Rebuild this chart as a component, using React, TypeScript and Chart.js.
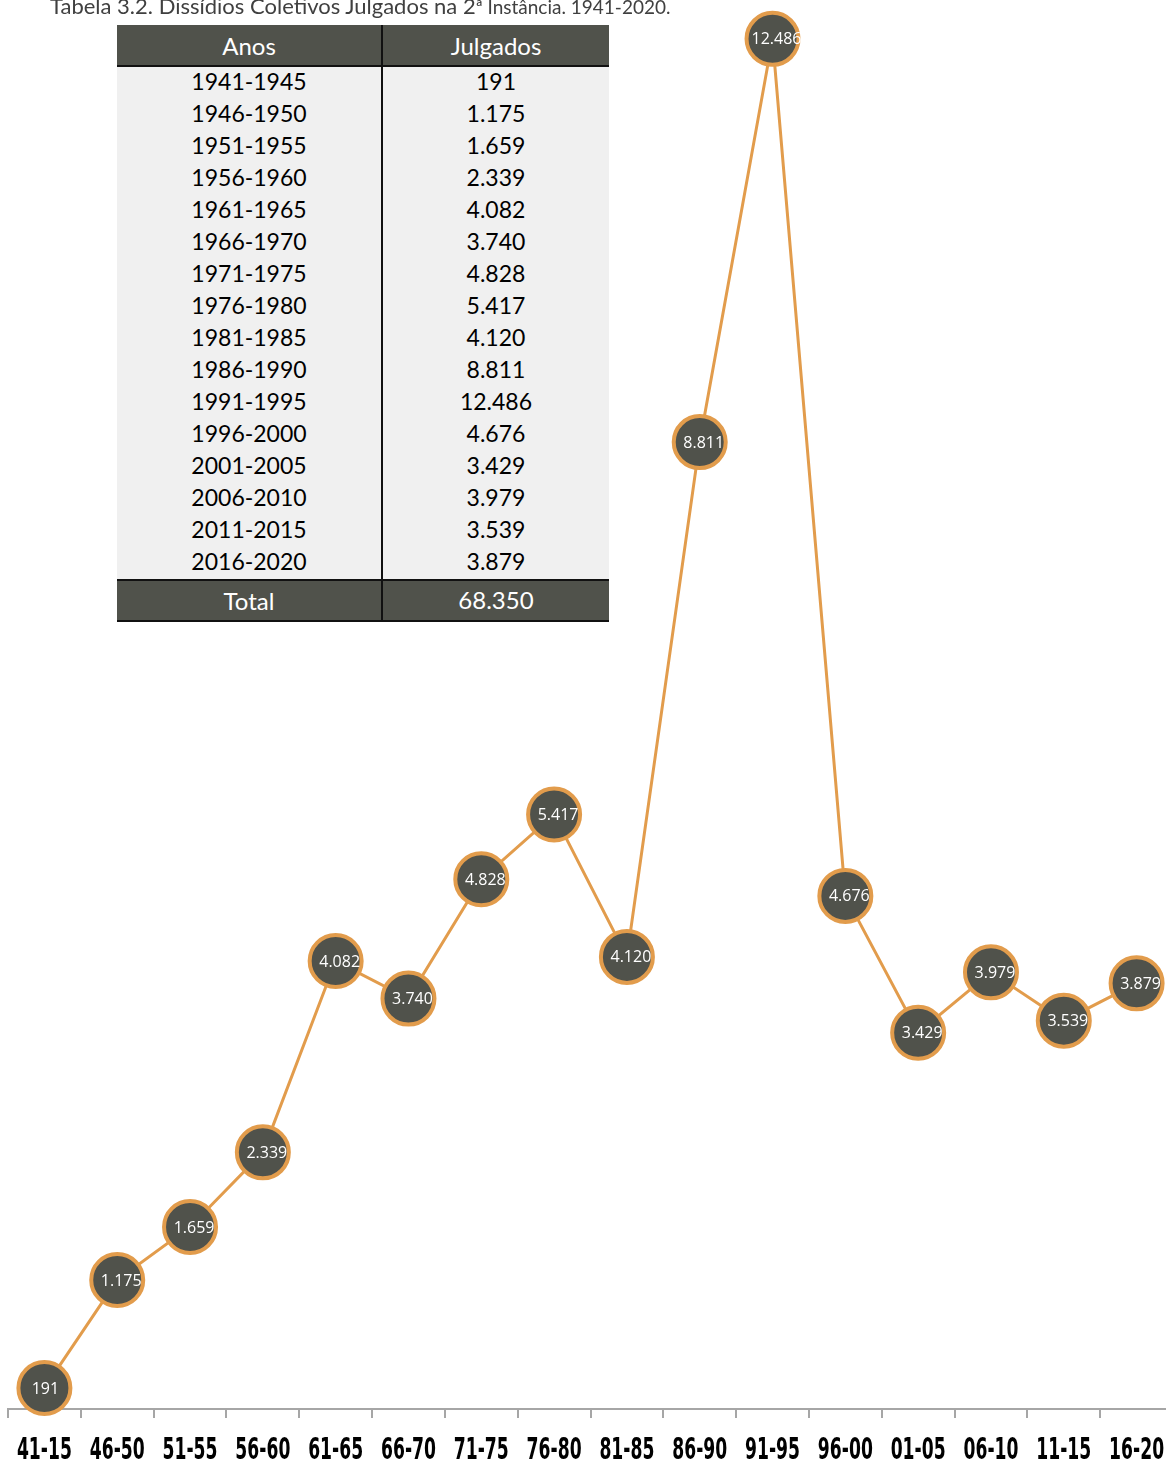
import React, { useEffect, useRef } from "react";
import { Chart, registerables } from "chart.js";

Chart.register(...registerables);

const periods = [
  "1941-1945", "1946-1950", "1951-1955", "1956-1960", "1961-1965", "1966-1970",
  "1971-1975", "1976-1980", "1981-1985", "1986-1990", "1991-1995", "1996-2000",
  "2001-2005", "2006-2010", "2011-2015", "2016-2020",
];
const axisLabels = [
  "41-15", "46-50", "51-55", "56-60", "61-65", "66-70", "71-75", "76-80",
  "81-85", "86-90", "91-95", "96-00", "01-05", "06-10", "11-15", "16-20",
];
const julgados = [191, 1175, 1659, 2339, 4082, 3740, 4828, 5417, 4120, 8811, 12486, 4676, 3429, 3979, 3539, 3879];

const fmt = (v: number) => String(v).replace(/\B(?=(\d{3})+(?!\d))/g, ".");

const DARK = "#50524B";
const ORANGE = "#E29C4C";

const labelPlugin = {
  id: "pointLabels",
  afterDatasetsDraw(chart: any) {
    const ctx = chart.ctx;
    const meta = chart.getDatasetMeta(0);
    ctx.save();
    ctx.fillStyle = "#FFFFFF";
    ctx.font = "16px 'Open Sans', sans-serif";
    ctx.textAlign = "center";
    ctx.textBaseline = "middle";
    meta.data.forEach((pt: any, i: number) => {
      const dx = julgados[i] >= 1000 ? 4 : 1;
      ctx.fillText(fmt(julgados[i]), pt.x + dx, pt.y + 1);
    });
    ctx.restore();
  },
};

// condensed category labels drawn at the x scale's own tick positions
const xLabelPlugin = {
  id: "xCondensedLabels",
  afterDraw(chart: any) {
    const ctx = chart.ctx;
    const xs = chart.scales.x;
    ctx.save();
    ctx.fillStyle = "#000";
    ctx.font = "bold 31px 'DejaVu Sans Condensed', 'DejaVu Sans', sans-serif";
    ctx.textAlign = "center";
    ctx.textBaseline = "alphabetic";
    const sx = 55 / ctx.measureText("46-50").width;
    const baseY = chart.chartArea.bottom + 50;
    axisLabels.forEach((lab, i) => {
      const x = xs.getPixelForValue(i);
      ctx.save();
      ctx.translate(x, baseY);
      ctx.scale(sx, 1);
      ctx.fillText(lab, 0, 0);
      ctx.restore();
    });
    ctx.restore();
  },
};

function TableBlock() {
  const cell: React.CSSProperties = {
    display: "flex",
    alignItems: "center",
    justifyContent: "center",
  };
  const total = julgados.reduce((a, b) => a + b, 0);
  return (
    <div
      style={{
        position: "absolute",
        left: 117,
        top: 25,
        width: 492,
        fontFamily: "Lato, sans-serif",
        fontSize: 23,
      }}
    >
      <div style={{ display: "flex", height: 40, background: DARK, color: "#fff", borderBottom: "2px solid #111" }}>
        <div style={{ ...cell, width: 264, borderRight: "2px solid #111", fontSize: 24 }}>Anos</div>
        <div style={{ ...cell, flex: 1, fontSize: 24 }}>Julgados</div>
      </div>
      {periods.map((p, i) => (
        <div key={p} style={{ display: "flex", height: 32, background: "#F0F0F0", color: "#000" }}>
          <div style={{ ...cell, width: 264, borderRight: "2px solid #111", paddingBottom: 4 }}>{p}</div>
          <div style={{ ...cell, flex: 1, paddingBottom: 4 }}>{fmt(julgados[i])}</div>
        </div>
      ))}
      <div
        style={{
          display: "flex",
          height: 39,
          background: DARK,
          color: "#fff",
          borderTop: "2px solid #111",
          borderBottom: "2px solid #111",
        }}
      >
        <div style={{ ...cell, width: 264, borderRight: "2px solid #111", fontSize: 24 }}>Total</div>
        <div style={{ ...cell, flex: 1, fontSize: 24, paddingBottom: 3 }}>{fmt(total)}</div>
      </div>
    </div>
  );
}

export default function App() {
  const ref = useRef<HTMLCanvasElement | null>(null);
  useEffect(() => {
    if (!ref.current) return;
    const chart = new Chart(ref.current, {
      type: "line",
      data: {
        labels: axisLabels,
        datasets: [
          {
            data: julgados,
            borderColor: ORANGE,
            borderWidth: 3,
            backgroundColor: DARK,
            pointBackgroundColor: DARK,
            pointBorderColor: ORANGE,
            pointBorderWidth: 4,
            pointRadius: 26,
            pointHoverRadius: 26,
            tension: 0,
            clip: false as any,
          },
        ],
      },
      options: {
        animation: false,
        responsive: false,
        maintainAspectRatio: false,
        layout: { autoPadding: false, padding: { left: 8, right: 7, top: 0, bottom: 45 } },
        plugins: { legend: { display: false }, tooltip: { enabled: false } },
        scales: {
          y: { display: false, min: 0, max: 12840 },
          x: {
            offset: true,
            grid: {
              offset: true,
              drawOnChartArea: false,
              drawTicks: true,
              tickLength: 9,
              color: "#A6A6A6",
              lineWidth: 2,
            },
            border: { display: true, color: "#A6A6A6", width: 2 },
            ticks: { display: false },
          },
        },
      },
      plugins: [labelPlugin, xLabelPlugin],
    });
    return () => chart.destroy();
  }, []);

  return (
    <div
      style={{
        position: "absolute",
        left: 0,
        top: 0,
        width: 1166,
        height: 1463,
        overflow: "hidden",
        background: "#fff",
      }}
    >
      <canvas ref={ref} width={1180} height={1463} style={{ position: "absolute", left: 0, top: 0 }} />
      <div
        style={{
          position: "absolute",
          left: 50,
          top: -8,
          fontFamily: "Lato, sans-serif",
          fontSize: 22,
          color: "#404040",
          whiteSpace: "nowrap",
        }}
      >
        Tabela 3.2. Dissídios Coletivos Julgados na 2<span style={{ fontSize: 19 }}>ª Instância. 1941-2020.</span>
      </div>
      <TableBlock />
    </div>
  );
}
